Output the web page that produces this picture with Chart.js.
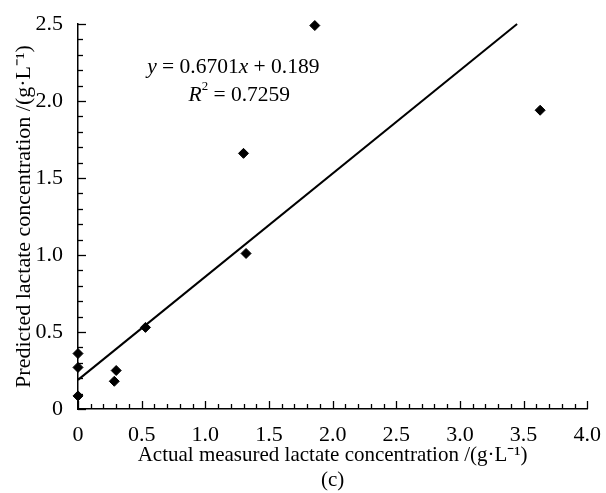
<!DOCTYPE html>
<html>
<head>
<meta charset="utf-8">
<script src="https://cdn.jsdelivr.net/npm/chart.js@4.4.1/dist/chart.umd.min.js"></script>
<style>
    html, body { margin: 0; padding: 0; background: #fff; }
    #chart { display: block; }
</style>
</head>
<body>
<canvas id="chart" width="606" height="493"></canvas>
<script>
// measured vs predicted lactate (g/L)
const actualValues = [0, 0, 0, 0.30, 0.285, 0.53, 1.30, 1.32, 1.86, 3.63];
const predictedValues = [0.36, 0.27, 0.085, 0.25, 0.18, 0.53, 1.66, 1.01, 2.49, 1.94];

// fitted line y = 0.6701x + 0.189, drawn between these x values
const fitSlope = 0.6701;
const fitIntercept = 0.189;
const fitRangeX = [0, 3.449];

const xTickValues = [0, 0.5, 1.0, 1.5, 2.0, 2.5, 3.0, 3.5, 4.0];
const yTickValues = [0, 0.5, 1.0, 1.5, 2.0, 2.5];
const minorStep = 0.1;

const FONT = '"Liberation Serif", "Times New Roman", serif';

const scatterPoints = actualValues.map((x, i) => ({ x: x, y: predictedValues[i] }));
const fitPoints = fitRangeX.map(x => ({ x: x, y: fitSlope * x + fitIntercept }));

function tickLabel(value) {
    return value === 0 ? '0' : value.toFixed(1);
}

// inward major/minor tick marks along both axes
function drawInwardTicks(chart) {
    const c = chart.ctx;
    const xs = chart.scales.x;
    const ys = chart.scales.y;
    const left = xs.left;
    const bottom = ys.bottom;
    c.save();
    c.strokeStyle = '#000';
    c.lineWidth = 1.3;
    const nx = Math.round((xs.max - xs.min) / minorStep);
    for (let i = 0; i <= nx; i++) {
        const px = Math.round(xs.getPixelForValue(xs.min + i * minorStep)) + 0.5;
        const len = i % 5 === 0 ? 8 : 5;
        c.beginPath();
        c.moveTo(px, bottom);
        c.lineTo(px, bottom - len);
        c.stroke();
    }
    const ny = Math.round((ys.max - ys.min) / minorStep);
    for (let i = 0; i <= ny; i++) {
        const py = Math.round(ys.getPixelForValue(ys.min + i * minorStep)) + 0.5;
        const len = i % 5 === 0 ? 8 : 5;
        c.beginPath();
        c.moveTo(left, py);
        c.lineTo(left + len, py);
        c.stroke();
    }
    c.restore();
}

// regression equation text, built from runs of normal / italic / superscript text
function drawRuns(c, runs, cx, cy, size) {
    let total = 0;
    runs.forEach(r => {
        c.font = (r.italic ? 'italic ' : '') + (r.sup ? size * 0.6 : size) + 'px ' + FONT;
        r.w = c.measureText(r.t).width;
        total += r.w;
    });
    let x = cx - total / 2;
    runs.forEach(r => {
        c.font = (r.italic ? 'italic ' : '') + (r.sup ? size * 0.6 : size) + 'px ' + FONT;
        c.fillText(r.t, x, r.sup ? cy - size * 0.4 : cy);
        x += r.w;
    });
}

const overlay = {
    id: 'overlay',
    afterDraw(chart) {
        drawInwardTicks(chart);

        const c = chart.ctx;
        const xs = chart.scales.x;
        const ys = chart.scales.y;
        const cx = xs.getPixelForValue(1.22);
        c.save();
        c.fillStyle = '#000';
        c.textBaseline = 'middle';
        c.textAlign = 'left';
        drawRuns(c, [
            { t: 'y', italic: true },
            { t: ' = 0.6701' },
            { t: 'x', italic: true },
            { t: ' + 0.189' }
        ], cx, ys.getPixelForValue(2.22), 21.5);
        drawRuns(c, [
            { t: 'R', italic: true },
            { t: '2', sup: true },
            { t: ' = 0.7259' }
        ], cx + 6, ys.getPixelForValue(2.035), 21.5);
        c.restore();
    }
};

const chartCtx = document.getElementById('chart').getContext('2d');
new Chart(chartCtx, {
    type: 'scatter',
    data: {
        datasets: [{
            label: 'Samples',
            data: scatterPoints,
            pointStyle: 'rectRot',
            pointRadius: 5,
            backgroundColor: '#000',
            borderColor: '#000',
            borderWidth: 1,
            clip: false
        }, {
            type: 'line',
            label: 'Fit',
            data: fitPoints,
            borderColor: '#000',
            borderWidth: 2,
            pointRadius: 0,
            fill: false,
            clip: false
        }]
    },
    options: {
        responsive: false,
        animation: false,
        layout: {
            padding: { top: 24, right: 16, bottom: 0, left: 0 }
        },
        scales: {
            x: {
                type: 'linear',
                min: 0,
                max: 4,
                afterBuildTicks: scale => { scale.ticks = xTickValues.map(v => ({ value: v })); },
                afterFit: scale => { scale.height = 84; },
                grid: { display: false },
                border: { display: true, color: '#000', width: 1.5 },
                ticks: {
                    color: '#000',
                    padding: 5,
                    maxRotation: 0,
                    font: { family: FONT, size: 22 },
                    callback: value => tickLabel(value)
                },
                title: {
                    display: true,
                    text: ['Actual measured lactate concentration /(g\u00b7L\u207b\u00b9)', '(c)'],
                    color: '#000',
                    padding: { top: 0, bottom: 0 },
                    font: { family: FONT, size: 21, lineHeight: 1.2 }
                }
            },
            y: {
                type: 'linear',
                min: 0,
                max: 2.5,
                afterBuildTicks: scale => { scale.ticks = yTickValues.map(v => ({ value: v })); },
                afterFit: scale => { scale.width = 78; },
                grid: { display: false },
                border: { display: true, color: '#000', width: 1.5 },
                ticks: {
                    color: '#000',
                    padding: 7,
                    font: { family: FONT, size: 22 },
                    callback: value => tickLabel(value)
                },
                title: {
                    display: true,
                    text: 'Predicted lactate concentration /(g\u00b7L\u207b\u00b9)',
                    color: '#000',
                    padding: { top: 11, bottom: 0 },
                    font: { family: FONT, size: 22, lineHeight: 1.2 }
                }
            }
        },
        plugins: {
            legend: { display: false },
            tooltip: { enabled: false }
        }
    },
    plugins: [overlay]
});
</script>
</body>
</html>
